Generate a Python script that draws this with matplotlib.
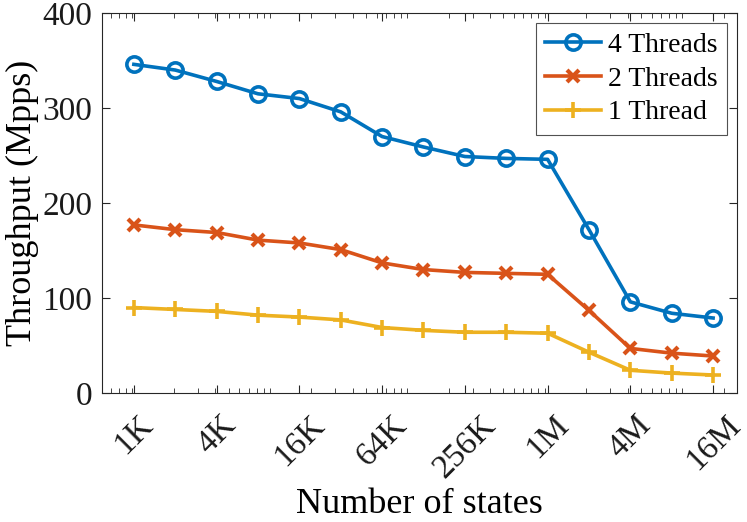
import matplotlib
matplotlib.use("Agg")
import matplotlib.pyplot as plt
from matplotlib.ticker import FixedLocator, LogLocator, NullFormatter

# number of states: 1K .. 16M (powers of two)
states = [2 ** k for k in range(10, 25)]
tick_states = [2 ** k for k in range(10, 25, 2)]
tick_labels = ["1K", "4K", "16K", "64K", "256K", "1M", "4M", "16M"]

thr_4 = [346, 340, 328, 315, 310, 296, 270, 259, 249, 247, 246, 172, 96, 84, 79]
thr_2 = [177, 172, 169, 161, 158, 151, 137, 130, 127, 126, 125, 87, 47, 42, 39]
thr_1 = [90, 88, 86, 82, 80, 77, 69, 66, 64, 64, 63, 43, 24, 21, 19]

plt.rcParams['font.family'] = ['Liberation Serif', 'DejaVu Serif']
plt.rcParams['mathtext.fontset'] = 'stix'

fig = plt.figure(figsize=(7.47, 5.22), dpi=100)
ax = fig.add_axes([0.1365, 0.247, 0.85, 0.728])

ax.plot(states, thr_4, color='#0072BD', lw=2.6, marker='o', ms=11,
        mfc='none', mew=2.6, label='4 Threads')
ax.plot(states, thr_2, color='#D95319', lw=2.6, marker='x', ms=8,
        mew=3, label='2 Threads')
ax.plot(states, thr_1, color='#EDB120', lw=2.6, marker='+', ms=12,
        mew=2.6, label='1 Thread')

ax.set_xscale('log')
ax.set_xlim(600, 2.5e7)
ax.set_ylim(0, 400)
ax.xaxis.set_major_locator(FixedLocator(tick_states))
ax.set_xticklabels(tick_labels, rotation=45)
ax.xaxis.set_minor_locator(LogLocator(base=10, subs=range(1, 10), numticks=30))
ax.xaxis.set_minor_formatter(NullFormatter())
ax.set_yticks([0, 100, 200, 300, 400])

ax.tick_params(axis='both', which='major', direction='in', length=6,
               width=0.8, labelsize=24, top=True, right=True, colors='#262626')
ax.tick_params(axis='x', which='major', pad=12)
ax.tick_params(axis='y', which='major', pad=7)
ax.tick_params(axis='both', which='minor', direction='in', length=3.5,
               width=0.6, top=True, right=True, colors='#262626')
for lab in ax.get_xticklabels() + ax.get_yticklabels():
    lab.set_color('#1a1a1a')
for s in ax.spines.values():
    s.set_color('#262626')
    s.set_linewidth(0.8)

ax.set_xlabel('Number of states', fontsize=26, labelpad=3)
ax.set_ylabel('Throughput (Mpps)', fontsize=26, labelpad=2)

leg = ax.legend(loc='upper right', fontsize=20, frameon=True, fancybox=False,
                edgecolor='#262626', borderpad=0.35, handlelength=2.0,
                handletextpad=0.25, labelspacing=0.3, borderaxespad=0.35)
leg.get_frame().set_linewidth(0.8)

fig.savefig('out.png', dpi=100)
